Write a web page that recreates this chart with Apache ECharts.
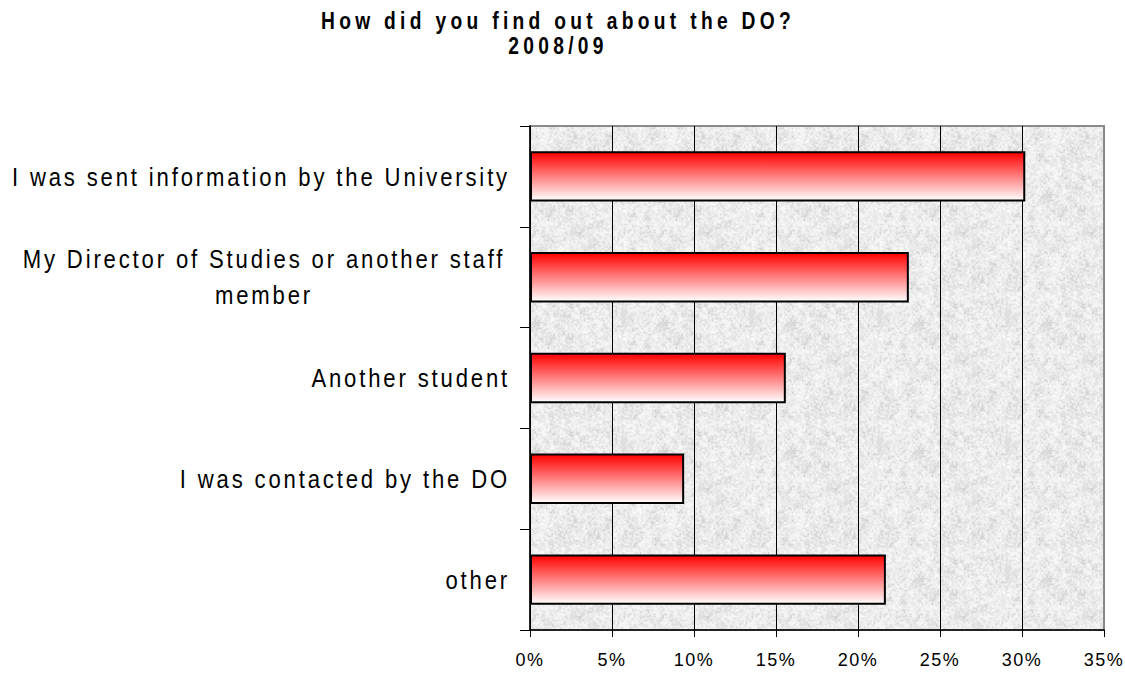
<!DOCTYPE html>
<html>
<head>
<meta charset="utf-8">
<script src="https://cdn.jsdelivr.net/npm/echarts@6/dist/echarts.min.js"></script>
<style>
  html, body { margin: 0; padding: 0; background: #ffffff; }
  #chart { width: 1125px; height: 673px; }
</style>
</head>
<body>
<div id="chart"></div>
<script>
// Survey answers, share of respondents in percent
const titleText = 'How did you find out about the DO?';
const subtitleText = '2008/09';
const categories = [
  'I was sent information by the University',
  'My Director of Studies or another staff member',
  'Another student',
  'I was contacted by the DO',
  'other'
];
const shares = [30.2, 23.1, 15.6, 9.4, 21.7];
const axisMin = 0;
const axisMax = 35;
const axisStep = 5;

const FONT = '"Liberation Sans", Arial, sans-serif';

// Light grey speckled tile used as the plot-area fill
function grainTile(size) {
  const c = document.createElement('canvas');
  c.width = c.height = size;
  const ctx = c.getContext('2d');
  const img = ctx.createImageData(size, size);
  const ihash = (x, y) => {
    let h = (Math.imul(x, 374761393) + Math.imul(y, 668265263)) | 0;
    h = Math.imul(h ^ (h >>> 13), 1274126177);
    h = h ^ (h >>> 16);
    return (h >>> 0) / 4294967296;
  };
  const smooth = (x, y, cell, seed) => {
    const period = Math.round(size / cell);
    const wrap = a => ((a % period) + period) % period;
    const gx = x / cell, gy = y / cell;
    const x0 = Math.floor(gx), y0 = Math.floor(gy);
    const fx = gx - x0, fy = gy - y0;
    const u = fx * fx * (3 - 2 * fx), v = fy * fy * (3 - 2 * fy);
    const a = ihash(wrap(x0) + seed, wrap(y0)), b = ihash(wrap(x0 + 1) + seed, wrap(y0));
    const c2 = ihash(wrap(x0) + seed, wrap(y0 + 1)), d = ihash(wrap(x0 + 1) + seed, wrap(y0 + 1));
    return a + (b - a) * u + (c2 - a) * v + (a - b - c2 + d) * u * v;
  };
  for (let y = 0; y < size; y++) {
    for (let x = 0; x < size; x++) {
      const n = 0.3 * smooth(x, y, 8, 101) + 0.45 * smooth(x, y, 2, 7) + 0.25 * ihash(x + 999, y);
      const g = Math.round(251 - 56 * Math.pow(n, 1.9));
      const i = (y * size + x) * 4;
      img.data[i] = g; img.data[i + 1] = g; img.data[i + 2] = g; img.data[i + 3] = 255;
    }
  }
  ctx.putImageData(img, 0, 0);
  return c;
}
const tile = grainTile(128);

const splitColors = [];
for (let v = axisMin; v <= axisMax; v += axisStep) {
  splitColors.push(v === axisMax ? '#888888' : '#000000');
}

const chart = echarts.init(document.getElementById('chart'), null, { renderer: 'svg' });

chart.setOption({
  animation: false,
  backgroundColor: '#ffffff',
  title: {
    text: titleText + '\n' + subtitleText,
    left: 553,
    top: 3,
    textAlign: 'center',
    textStyle: {
      fontFamily: FONT,
      fontWeight: 'bold',
      fontSize: 24,
      lineHeight: 25,
      color: '#000000'
    }
  },
  grid: {
    left: 530,
    right: 21,
    top: 126,
    bottom: 43,
    containLabel: false,
    show: true,
    backgroundColor: { image: tile, repeat: 'repeat', imageWidth: 128, imageHeight: 128 },
    borderColor: '#8a8a8a',
    borderWidth: 2
  },
  xAxis: {
    type: 'value',
    min: axisMin,
    max: axisMax,
    interval: axisStep,
    axisLine: { show: true, lineStyle: { color: '#000000', width: 1.5 } },
    axisTick: { show: true, length: 7, lineStyle: { color: '#000000', width: 1 } },
    axisLabel: {
      formatter: '{value}%',
      fontFamily: FONT,
      fontSize: 18,
      color: '#000000',
      margin: 21
    },
    splitLine: { show: true, lineStyle: { color: splitColors, width: 1 } }
  },
  yAxis: {
    type: 'category',
    inverse: true,
    data: categories,
    axisLine: { show: true, lineStyle: { color: '#000000', width: 1.5 } },
    axisTick: { show: true, length: 10, lineStyle: { color: '#000000', width: 1 } },
    axisLabel: {
      fontFamily: FONT,
      fontSize: 26,
      color: '#000000',
      margin: 20,
      formatter: function (v) {
        if (v.length > 42) {
          const cut = v.lastIndexOf(' ');
          return '{c|' + v.slice(0, cut) + '}\n{c|' + v.slice(cut + 1) + '}';
        }
        return v;
      },
      rich: {
        c: { fontFamily: FONT, fontSize: 26, color: '#000000', width: 492, align: 'center', lineHeight: 36 }
      }
    }
  },
  series: [{
    type: 'bar',
    data: shares,
    barCategoryGap: '50%',
    itemStyle: {
      color: new echarts.graphic.LinearGradient(0, 0, 0, 1, [
        { offset: 0, color: '#ff0000' },
        { offset: 1, color: '#ffffff' }
      ]),
      borderColor: '#000000',
      borderWidth: 2
    }
  }]
});

// Narrow, letter-spaced lettering: squeeze each text run horizontally
// about its own anchor point and open up the tracking
document.querySelectorAll('#chart svg text').forEach(function (el) {
  const cs = getComputedStyle(el);
  const size = parseFloat(cs.fontSize);
  const bold = parseInt(cs.fontWeight, 10) >= 600;
  let squeeze = 0.85, spacing = 3.35;
  if (bold) { squeeze = 0.8; spacing = 5.4; }
  else if (size < 20) { squeeze = 1; spacing = 1.5; }
  el.style.letterSpacing = spacing + 'px';
  if (squeeze !== 1) {
    const x = parseFloat(el.getAttribute('x')) || 0;
    const y = parseFloat(el.getAttribute('y')) || 0;
    const prev = el.getAttribute('transform') || '';
    el.setAttribute('transform', (prev + ' translate(' + x + ' ' + y + ') scale(' + squeeze + ' 1) translate(' + (-x) + ' ' + (-y) + ')').trim());
  }
});
</script>
</body>
</html>
